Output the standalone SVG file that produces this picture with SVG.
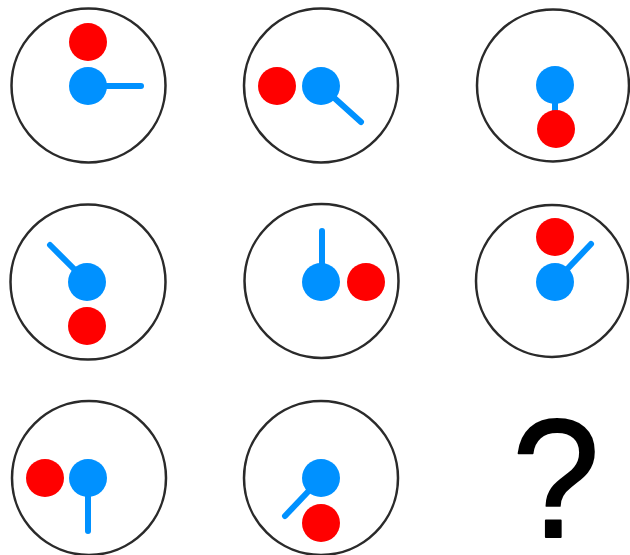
<svg xmlns="http://www.w3.org/2000/svg" width="630" height="555" viewBox="0 0 630 555">
<style>
.ring{fill:#fff;stroke:#2a2a2a;stroke-width:2.5}
.red{fill:#ff0000}
.blue{fill:#0091ff}
.hand{stroke:#0091ff;stroke-width:6;stroke-linecap:round;fill:none}
.q{font-family:"Liberation Sans",Arial,sans-serif;font-size:168px;fill:#000;stroke:#000;stroke-width:1.8;stroke-linejoin:round}
</style>
<rect width="630" height="555" fill="#fff"/>
<g id="c1">
<circle class="ring" cx="88.5" cy="85.5" r="77"/>
<line class="hand" x1="88" y1="86" x2="141" y2="86"/>
<circle class="blue" cx="88" cy="86" r="19"/>
<circle class="red" cx="88" cy="42" r="19"/>
</g>
<g id="c2">
<circle class="ring" cx="321" cy="85.5" r="77"/>
<line class="hand" x1="321" y1="86" x2="361" y2="122"/>
<circle class="blue" cx="321" cy="86" r="19"/>
<circle class="red" cx="277" cy="86" r="19"/>
</g>
<g id="c3">
<circle class="ring" cx="553" cy="85.5" r="76"/>
<line class="hand" x1="555" y1="86" x2="555" y2="125"/>
<circle class="blue" cx="555" cy="85" r="19"/>
<circle class="red" cx="556" cy="129" r="19"/>
</g>
<g id="c4">
<circle class="ring" cx="88" cy="282" r="77.5"/>
<line class="hand" x1="87" y1="282" x2="50" y2="245"/>
<circle class="blue" cx="87" cy="282" r="19"/>
<circle class="red" cx="87" cy="326" r="19"/>
</g>
<g id="c5">
<circle class="ring" cx="321.5" cy="281" r="77"/>
<line class="hand" x1="322" y1="282" x2="322" y2="231"/>
<circle class="blue" cx="321" cy="282" r="19"/>
<circle class="red" cx="366" cy="282" r="19"/>
</g>
<g id="c6">
<circle class="ring" cx="552" cy="281" r="76"/>
<line class="hand" x1="555" y1="282" x2="591" y2="244"/>
<circle class="blue" cx="555" cy="282" r="19"/>
<circle class="red" cx="555" cy="237" r="19"/>
</g>
<g id="c7">
<circle class="ring" cx="89" cy="478" r="77"/>
<line class="hand" x1="88" y1="478" x2="88" y2="531"/>
<circle class="blue" cx="88" cy="478" r="19"/>
<circle class="red" cx="45" cy="478" r="19"/>
</g>
<g id="c8">
<circle class="ring" cx="321" cy="478" r="77"/>
<line class="hand" x1="321" y1="478" x2="285" y2="516"/>
<circle class="blue" cx="321" cy="478" r="19"/>
<circle class="red" cx="321" cy="523" r="19"/>
</g>
<g id="q">
<text class="q" x="556" y="537" text-anchor="middle" transform="translate(556 0) scale(0.94 1) translate(-556 0)">?</text>
</g>
</svg>
